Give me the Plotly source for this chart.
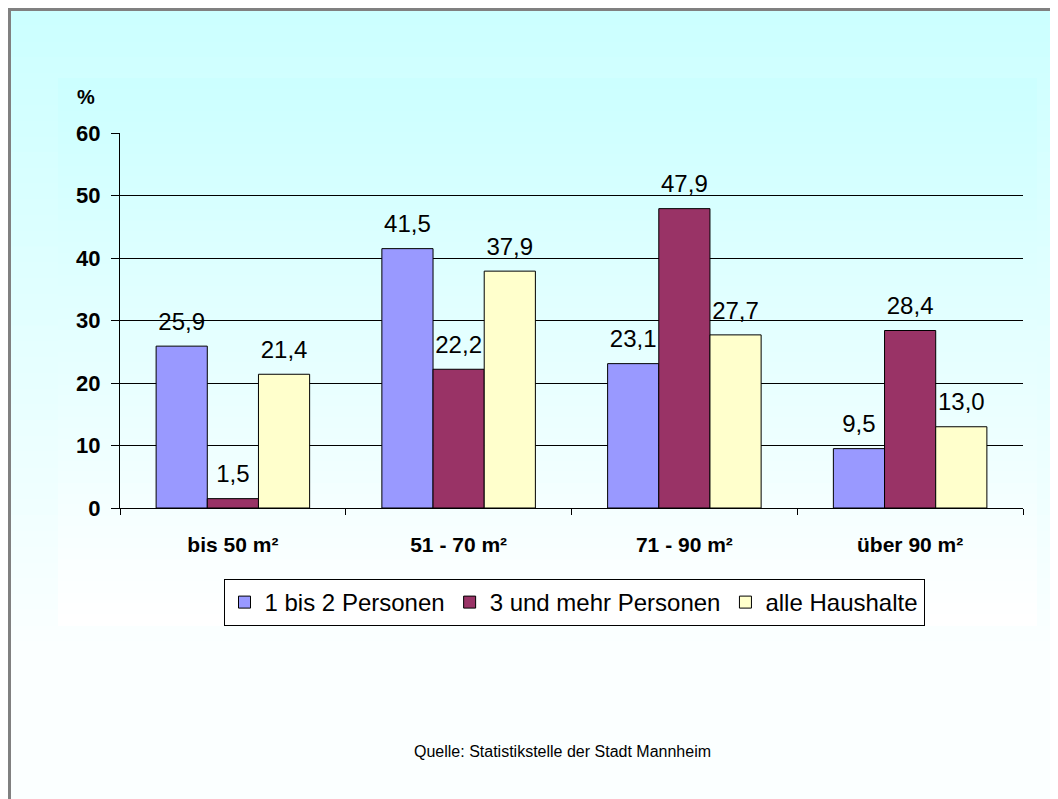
import plotly.graph_objects as go

categories = ["bis 50 m²", "51 - 70 m²", "71 - 90 m²", "über 90 m²"]
series_names = ["1 bis 2 Personen", "3 und mehr Personen", "alle Haushalte"]
pers_1_2 = [25.9, 41.5, 23.1, 9.5]
pers_3_plus = [1.5, 22.2, 47.9, 28.4]
alle = [21.4, 37.9, 27.7, 13.0]
y_ticks = [0, 10, 20, 30, 40, 50, 60]

colors = ["#9999FF", "#993366", "#FFFFCC"]
FONT = "Arial, Liberation Sans, sans-serif"

# page is offset by the 8px body margin, so work in page pixels and shift
OFF = 8
PAGE_W, PAGE_H = 1058, 799
W, H = PAGE_W - OFF, PAGE_H - OFF
# plot area in page pixels
L, R, T, B = 120, 1023, 133, 508


def px(x):
    return (x - L) / (R - L)


def py(y):
    return (B - y) / (B - T)


def de(v):
    return f"{v:.1f}".replace(".", ",")


def mix(c1, c2, t):
    a = [int(c1[i:i + 2], 16) for i in (1, 3, 5)]
    b = [int(c2[i:i + 2], 16) for i in (1, 3, 5)]
    return "rgb(%d,%d,%d)" % tuple(round(a[k] + (b[k] - a[k]) * t) for k in range(3))


fig = go.Figure()
for name, vals, col in zip(series_names, [pers_1_2, pers_3_plus, alle], colors):
    fig.add_trace(go.Bar(
        x=categories, y=vals, name=name,
        marker=dict(color=col, line=dict(color="black", width=1)),
    ))
# value labels, grouped like the bars; the invisible marker lifts the text
for name, vals in zip(series_names, [pers_1_2, pers_3_plus, alle]):
    fig.add_trace(go.Scatter(
        x=categories, y=vals, mode="markers+text", showlegend=False, hoverinfo="skip",
        text=[de(v) for v in vals], textposition="top center",
        marker=dict(size=15, opacity=0),
        textfont=dict(family=FONT, size=24, color="black"),
        cliponaxis=False,
    ))

shapes = []
# outer background gradient
n = 50
for i in range(n):
    y0 = 10 + (PAGE_H - 10) * i / n
    y1 = 10 + (PAGE_H - 10) * (i + 1) / n
    t = min(1.0, i / (n * 0.8))
    shapes.append(dict(type="rect", xref="paper", yref="paper", layer="below",
                       x0=px(10), x1=px(PAGE_W + 5), y0=py(y0), y1=py(y1 + 1),
                       fillcolor=mix("#CCFFFF", "#FBFFFF", t), line=dict(width=0)))
# chart area gradient
for i in range(n):
    y0 = 78 + (625 - 78) * i / n
    y1 = 78 + (625 - 78) * (i + 1) / n
    t = i / (n - 1)
    shapes.append(dict(type="rect", xref="paper", yref="paper", layer="below",
                       x0=px(58), x1=px(1037), y0=py(y0), y1=py(y1 + 1),
                       fillcolor=mix("#CCFFFF", "#FFFFFF", t), line=dict(width=0)))
# frame (top and left)
shapes.append(dict(type="rect", xref="paper", yref="paper", x0=px(7), x1=px(PAGE_W + 5),
                   y0=py(7), y1=py(11), fillcolor="#808080", line=dict(width=0)))
shapes.append(dict(type="rect", xref="paper", yref="paper", x0=px(7), x1=px(11),
                   y0=py(7), y1=py(PAGE_H + 5), fillcolor="#808080", line=dict(width=0)))

fig.update_layout(
    width=W, height=H,
    margin=dict(l=L - OFF, r=PAGE_W - R, t=T - OFF, b=PAGE_H - B),
    paper_bgcolor="white", plot_bgcolor="rgba(0,0,0,0)",
    font=dict(family=FONT, color="black"),
    barmode="group", bargap=0.32, bargroupgap=0,
    scattermode="group", scattergap=0.32,
    shapes=shapes,
    showlegend=True,
    legend=dict(orientation="h", x=px(574), xanchor="center", y=py(579), yanchor="top",
                bgcolor="white", bordercolor="black", borderwidth=1,
                font=dict(family=FONT, size=24), traceorder="normal"),
    annotations=[
        dict(text="%", x=px(86), y=py(97), xref="paper", yref="paper", showarrow=False,
             xanchor="center", yanchor="middle",
             font=dict(family=FONT, size=20, weight="bold")),
        dict(text="Quelle: Statistikstelle der Stadt Mannheim", x=px(562), y=py(752),
             xref="paper", yref="paper", showarrow=False,
             xanchor="center", yanchor="middle",
             font=dict(family=FONT, size=16)),
    ],
)
fig.update_yaxes(range=[0, 60], tickvals=y_ticks, showgrid=True, gridcolor="black",
                 gridwidth=1, showline=True, linecolor="black", ticks="outside",
                 ticklen=8, tickcolor="black", zeroline=False, ticklabelstandoff=6,
                 tickfont=dict(family=FONT, size=22, weight="bold"))
fig.update_xaxes(showline=True, linecolor="black", ticks="outside", tickson="boundaries",
                 ticklen=6, tickcolor="black", ticklabelstandoff=18,
                 tickfont=dict(family=FONT, size=21, weight="bold"))

fig.write_html("out.html")
